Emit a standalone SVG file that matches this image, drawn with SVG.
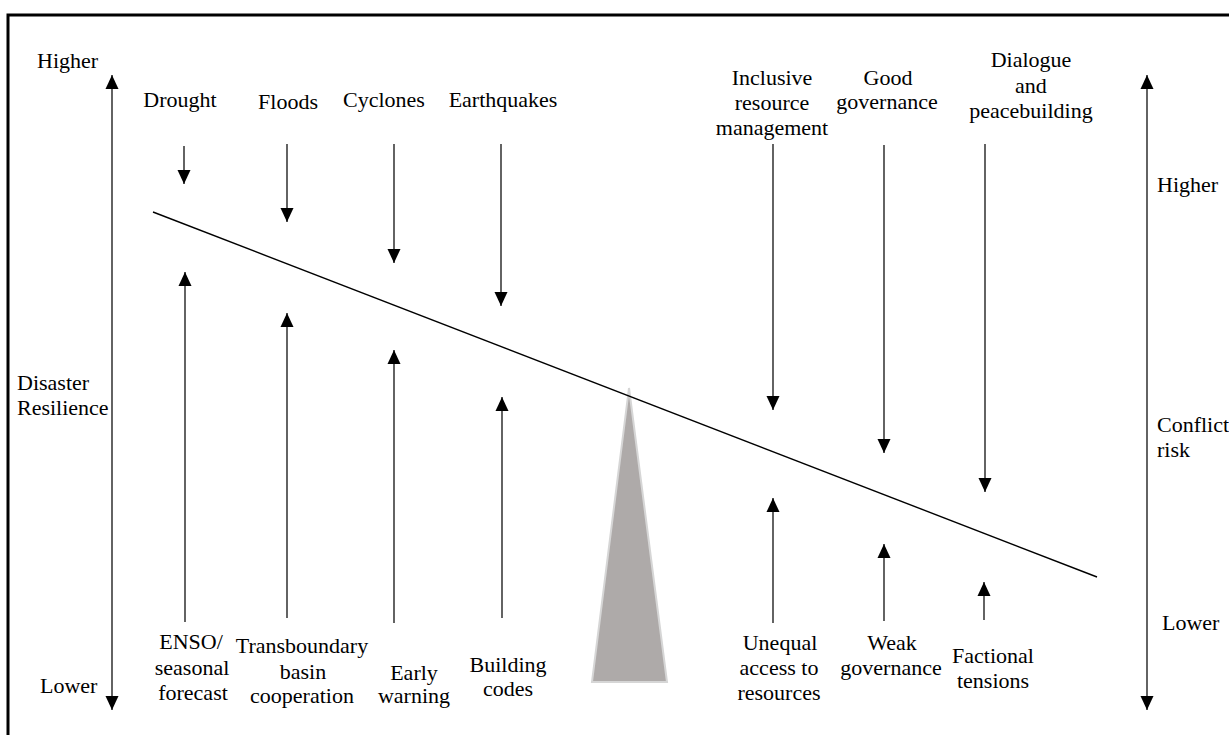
<svg xmlns="http://www.w3.org/2000/svg" width="1229" height="735" viewBox="0 0 1229 735">
<style>
text{font-family:'Liberation Serif','Times New Roman',Times,'DejaVu Serif','Noto Serif',serif;font-size:22px;fill:#000}
.c{text-anchor:middle}
.ar{stroke:#222;stroke-width:1.4;fill:none;marker-end:url(#ah)}
.ax{stroke:#222;stroke-width:1.4;fill:none;marker-end:url(#ah);marker-start:url(#ah)}
</style>
<defs>
<marker id="ah" markerWidth="14" markerHeight="14" refX="14" refY="7" orient="auto-start-reverse" markerUnits="userSpaceOnUse">
<path d="M0,0.5 L14,7 L0,13.5 z" fill="#000"/>
</marker>
</defs>
<rect x="8" y="15" width="1300" height="800" fill="#fff" stroke="#000" stroke-width="3"/>
<g id="fulcrum"><polygon points="629,388 667,682 592,682" fill="#aeaaa9" stroke="#d6d6d6" stroke-width="2"/></g>
<g id="connectors">
<line id="beam" x1="153" y1="212" x2="1097" y2="577" stroke="#000" stroke-width="1.4"/>
<line class="ax" x1="112" y1="75" x2="112" y2="710"/>
<line class="ax" x1="1147" y1="75" x2="1147" y2="710"/>
<line class="ar" x1="184" y1="146" x2="184" y2="184"/>
<line class="ar" x1="287" y1="144" x2="287" y2="222"/>
<line class="ar" x1="394" y1="144" x2="394" y2="263"/>
<line class="ar" x1="501" y1="144" x2="501" y2="306"/>
<line class="ar" x1="773" y1="144" x2="773" y2="410"/>
<line class="ar" x1="884" y1="145" x2="884" y2="453"/>
<line class="ar" x1="985" y1="144" x2="985" y2="492"/>
<line class="ar" x1="185" y1="622" x2="185" y2="272"/>
<line class="ar" x1="287" y1="618" x2="287" y2="313"/>
<line class="ar" x1="394" y1="623" x2="394" y2="350"/>
<line class="ar" x1="502" y1="618" x2="502" y2="397"/>
<line class="ar" x1="773" y1="623" x2="773" y2="498"/>
<line class="ar" x1="884" y1="621" x2="884" y2="544"/>
<line class="ar" x1="984" y1="620" x2="984" y2="582"/>
</g>
<g font-family="Liberation Serif, serif">
<g id="axis-left">
<text x="37" y="68">Higher</text>
<text x="17" y="390">Disaster</text>
<text x="17" y="415">Resilience</text>
<text x="40" y="693">Lower</text>
</g>
<g id="axis-right">
<text x="1157" y="192">Higher</text>
<text x="1157" y="432">Conflict</text>
<text x="1157" y="457">risk</text>
<text x="1162" y="630">Lower</text>
</g>
<g id="drought"><text class="c" x="180" y="107">Drought</text></g>
<g id="floods"><text class="c" x="288" y="109">Floods</text></g>
<g id="cyclones"><text class="c" x="384" y="107">Cyclones</text></g>
<g id="earthquakes"><text class="c" x="503" y="107">Earthquakes</text></g>
<g id="inclusive"><text class="c" x="772" y="85">Inclusive</text><text class="c" x="772" y="110">resource</text><text class="c" x="772" y="135">management</text></g>
<g id="good-governance"><text class="c" x="888" y="85">Good</text><text class="c" x="887" y="109">governance</text></g>
<g id="dialogue"><text class="c" x="1031" y="67">Dialogue</text><text class="c" x="1031" y="93">and</text><text class="c" x="1031" y="118">peacebuilding</text></g>
<g id="enso"><text class="c" x="191" y="649">ENSO/</text><text class="c" x="192" y="675">seasonal</text><text class="c" x="193" y="700">forecast</text></g>
<g id="transboundary"><text class="c" x="302" y="653">Transboundary</text><text class="c" x="303" y="679">basin</text><text class="c" x="302" y="703">cooperation</text></g>
<g id="early-warning"><text class="c" x="414" y="680">Early</text><text class="c" x="414" y="703">warning</text></g>
<g id="building-codes"><text class="c" x="508" y="672">Building</text><text class="c" x="508" y="696">codes</text></g>
<g id="unequal"><text class="c" x="780" y="650">Unequal</text><text class="c" x="779" y="675">access to</text><text class="c" x="779" y="700">resources</text></g>
<g id="weak-governance"><text class="c" x="892" y="650">Weak</text><text class="c" x="891" y="675">governance</text></g>
<g id="factional"><text class="c" x="993" y="663">Factional</text><text class="c" x="993" y="688">tensions</text></g>
</g>
</svg>
